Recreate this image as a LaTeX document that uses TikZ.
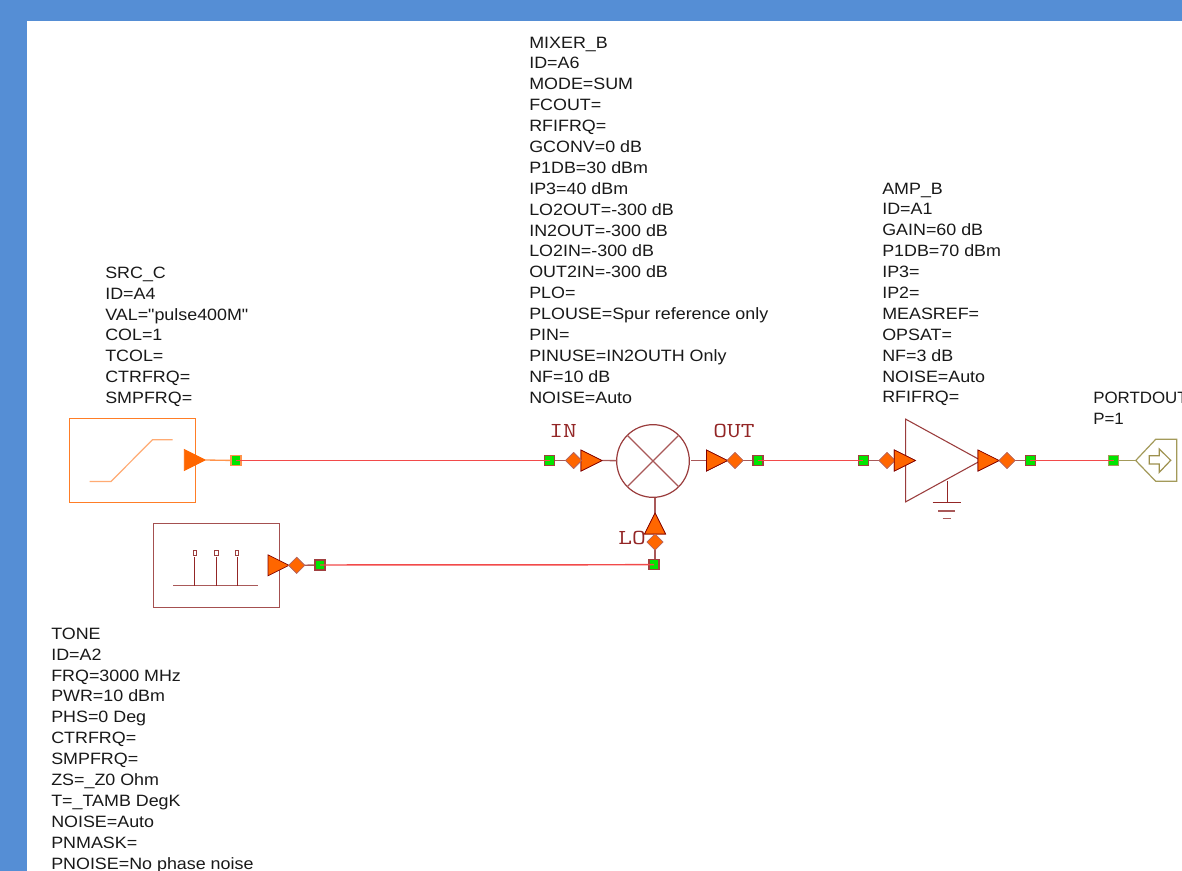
\documentclass[tikz,border=0pt]{standalone}
\usepackage{fontspec}
\setmainfont{Liberation Sans}[Ligatures=TeXOff]
\usetikzlibrary{shapes.geometric}
\definecolor{bluebar}{HTML}{558ED5}
\definecolor{dred}{HTML}{800000}
\definecolor{softred}{HTML}{9A3C3C}
\definecolor{orng}{HTML}{FF6600}
\definecolor{wire}{HTML}{F24A4A}
\definecolor{olive}{HTML}{A39A5A}
\definecolor{olived}{HTML}{857420}
\tikzset{
  x=.75pt,y=-.75pt,
  param/.style={anchor=north west,inner sep=0pt,align=left,text=black!90,font=\fontsize{12.3}{15.67}\selectfont,xscale=1.09,transform shape},
  portparam/.style={param,xscale=.945},
  portlabel/.style={inner sep=0pt,text=dred!85,font=\ttfamily\fontsize{16}{16}\selectfont,xscale=1.25,transform shape},
  gsq/.style={draw=dred!75,fill=green!90!black,line width=.8pt,minimum size=7.5pt,inner sep=0pt,outer sep=0pt},
  gsqo/.style={gsq,draw=orng!70},
  gsqy/.style={gsq,draw=olive},
  dia/.style={diamond,draw=dred!60,fill=orng,line width=.5pt,minimum width=12pt,minimum height=12pt,inner sep=0pt,outer sep=0pt},
  tri/.style={isosceles triangle,isosceles triangle stretches,draw=dred,fill=orng,line width=.5pt,minimum width=15.75pt,minimum height=15.75pt,inner sep=0pt,outer sep=0pt,anchor=lower side},
  trio/.style={tri,draw=orng},
  trup/.style={tri,shape border rotate=90},
  blockbox/.style={rectangle,draw=softred!90,line width=.7pt,fill=white,minimum width=94.5pt,minimum height=63pt,inner sep=0pt,outer sep=0pt},
  stub/.style={draw=softred!85,line width=1pt},
  wireline/.style={draw=wire,line width=1.1pt},
  glyph/.style={draw=softred!85,line width=.9pt},
  glyphd/.style={draw=dred!85,line width=.75pt},
}
\begin{document}
\begin{tikzpicture}
\useasboundingbox (0,0) rectangle (1182,871);
\clip (0,0) rectangle (1182,871);
\fill[bluebar] (0,0) rectangle (1182,871);
\fill[white] (27,21) rectangle (1182,871);

% parameter text
\node[param] (tmix) at (529,36.5) {MIXER\_B\\ID=A6\\MODE=SUM\\FCOUT=\\RFIFRQ=\\GCONV=0 dB\\P1DB=30 dBm\\IP3=40 dBm\\LO2OUT=-300 dB\\IN2OUT=-300 dB\\LO2IN=-300 dB\\OUT2IN=-300 dB\\PLO=\\PLOUSE=Spur reference only\\PIN=\\PINUSE=IN2OUTH Only\\NF=10 dB\\NOISE=Auto};
\node[param] (tsrc) at (105,266.5) {SRC\_C\\ID=A4\\VAL="pulse400M"\\COL=1\\TCOL=\\CTRFRQ=\\SMPFRQ=};
\node[param] (tamp) at (882,182.5) {AMP\_B\\ID=A1\\GAIN=60 dB\\P1DB=70 dBm\\IP3=\\IP2=\\MEASREF=\\OPSAT=\\NF=3 dB\\NOISE=Auto\\RFIFRQ=};
\node[portparam] (tport) at (1093,391.5) {PORTDOUT\\P=1};
\node[param] (ttone) at (51,627.5) {TONE\\ID=A2\\FRQ=3000 MHz\\PWR=10 dBm\\PHS=0 Deg\\CTRFRQ=\\SMPFRQ=\\ZS=\_Z0 Ohm\\T=\_TAMB DegK\\NOISE=Auto\\PNMASK=\\PNOISE=No phase noise};

% source block
\node[blockbox,draw=orng!85] (src) at (132,460.5) {};
\draw[draw=orng!55,line width=.9pt] (89.5,481.5) -- (111,481.5) -- (152.5,439.7) -- (172.7,439.7);
\node[trio] (srct) at (184.3,460) {};
\node[gsqo] (srcp) at (236,460.5) {};

% tone block
\node[blockbox] (tone) at (216,565) {};
\draw[glyph] (173,585.7) -- (257.7,585.7);
\draw[glyphd] (194.7,585.7) -- (194.7,556.5);
\draw[glyphd] (216.3,585.7) -- (216.3,556.5);
\draw[glyphd] (237,585.7) -- (237,556.5);
\draw[draw=softred,line width=.6pt,fill=white] (193,550.5) rectangle (196.4,555.5);
\draw[draw=softred,line width=.6pt,fill=white] (214.6,550.5) rectangle (218,555.5);
\draw[draw=softred,line width=.6pt,fill=white] (235.3,550.5) rectangle (238.7,555.5);
\node[tri] (tonet) at (268,565.3) {};
\node[dia] (toned) at (296.7,565.3) {};
\node[gsq] (tonep) at (320,565) {};

% mixer
\node[circle,draw=softred,line width=.9pt,fill=white,minimum size=54.5pt,inner sep=0pt,outer sep=0pt] (mix) at (653,461) {};
\draw[glyph] (mix.45) -- (mix.225);
\draw[glyph] (mix.135) -- (mix.-45);
\node[gsq] (inp) at (549.7,460.5) {};
\node[dia] (ind) at (573.7,460.5) {};
\node[tri] (int) at (581,460.5) {};
\node[tri] (outt) at (706.5,460.5) {};
\node[dia] (outd) at (735,460.5) {};
\node[gsq] (outp) at (758,460.5) {};
\coordinate (mixo) at (691,460.5);
\node[dia] (lod) at (655,542) {};
\node[trup] (lot) at (655,534) {};
\node[gsq] (lop) at (654,564.7) {};
\coordinate (mixl) at (655,498);
\node[portlabel] (lin) at (563,431) {IN};
\node[portlabel] (lout) at (734,431) {OUT};
\node[portlabel] (llo) at (632,538) {LO};

% amplifier
\node[isosceles triangle,isosceles triangle stretches,draw=softred,line width=.8pt,fill=white,minimum width=62pt,minimum height=56.5pt,inner sep=0pt,outer sep=0pt,anchor=lower side] (amp) at (905.7,460.5) {};
\node[gsq] (aip) at (863.3,460.5) {};
\node[dia] (aid) at (887,460.5) {};
\node[tri] (ait) at (894.3,460.5) {};
\node[tri] (aot) at (978,460.5) {};
\node[dia] (aod) at (1007,460.5) {};
\node[gsq] (aop) at (1030.3,460.5) {};
\coordinate (gtop) at (947,481);
\coordinate (gbot) at (947,502.7);
\draw[glyphd] (gtop) -- (gbot);
\draw[glyphd] (932.7,502.7) -- (961,502.7);
\draw[glyph] (938,511) -- (955,511);
\draw[glyph] (942.7,518.7) -- (951,518.7);

% output port
\node[gsqy] (pp) at (1113.7,460.5) {};
\coordinate (pl) at (1135.7,460.5);
\draw[draw=olive,line width=.9pt,fill=white] (pl) -- (1155.7,439.3) -- (1176.7,439.3) -- (1176.7,481.3) -- (1155.7,481.3) -- cycle;
\draw[draw=olived!80,line width=.9pt] (1149.3,455.7) -- (1159.3,455.7) -- (1159.3,449) -- (1170.7,460.3) -- (1159.3,472.3) -- (1159.3,464) -- (1149.3,464) -- cycle;

% short connectors inside components
\draw[draw=orng!70,line width=1pt] (srct.apex) -- (srcp);
\draw[stub] (tonet.apex) -- (toned);
\draw[stub] (toned) -- (tonep);
\draw[stub] (inp) -- (ind);
\draw[stub] (int.apex) -- (mix);
\draw[stub] (mixo) -- (outt);
\draw[stub] (outd) -- (outp);
\draw[stub] (mixl) -- (lot.apex);
\draw[stub] (lod) -- (lod |- lop);
\draw[stub] (aip) -- (aid);
\draw[stub] (aod) -- (aop);
\draw[draw=olive,line width=1pt] (pp) -- (pl);
\node[tri] at (int.lower side) {};
\node[dia] at (ind) {};
\node[tri] at (outt.lower side) {};
\node[dia] at (outd) {};
\node[dia] at (toned) {};
\node[trup] at (lot.lower side) {};
\node[dia] at (lod) {};
\node[dia] at (aid) {};
\node[tri] at (ait.lower side) {};
\node[tri] at (aot.lower side) {};
\node[dia] at (aod) {};
\node[gsq] at (inp) {};
\node[gsq] at (outp) {};
\node[gsq] at (tonep) {};
\node[gsq] at (lop) {};
\node[gsq] at (aip) {};
\node[gsq] at (aop) {};
\node[gsqy] at (pp) {};
\node[gsqo] at (srcp) {};

% wires
\draw[wireline] (srcp.center) -- (inp.center);
\draw[wireline] (tonep.center) -- (lop.center);
\draw[wireline] (outp.center) -- (aip.center);
\draw[wireline] (aop.center) -- (pp.center);
\end{tikzpicture}
\end{document}
